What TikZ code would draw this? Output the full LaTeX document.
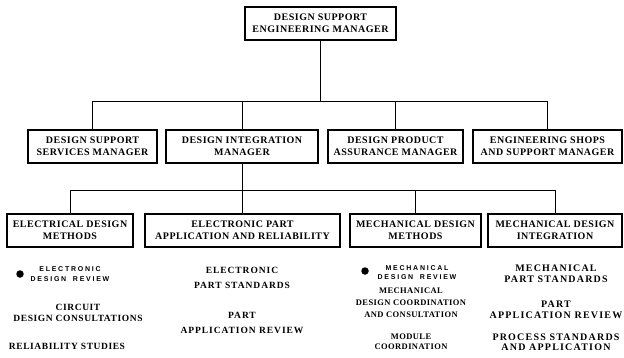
\documentclass[tikz,border=0pt]{standalone}
\usepackage{fontspec}
\setmainfont{Liberation Serif}
\newfontfamily\fa{Liberation Serif}[LetterSpace=5]
\newfontfamily\fb{Liberation Serif}[LetterSpace=6]
\newfontfamily\fe{Liberation Serif}[LetterSpace=10]
\newfontfamily\fc{Liberation Serif}[LetterSpace=5]
\newfontfamily\fd{Liberation Serif}[LetterSpace=12]
\newfontfamily\fs{Liberation Sans}[LetterSpace=25]
\begin{document}
\begin{tikzpicture}[x=1pt,y=-1pt,
  box/.style={draw, line width=1.1pt, inner sep=0pt, align=center, minimum height=33pt},
  mgr/.style={box, font=\fa\bfseries\fontsize{10}{12}\selectfont},
  grp/.style={box, font=\fa\bfseries\fontsize{10}{12}\selectfont},
  item/.style={inner sep=0pt, align=center, font=\fb\bfseries\fontsize{9.5}{10.5}\selectfont},
  iteme/.style={inner sep=0pt, align=center, font=\fe\bfseries\fontsize{9.5}{15}\selectfont},
  itemc/.style={inner sep=0pt, align=center, font=\fc\bfseries\fontsize{8.5}{12}\selectfont},
  itemd/.style={inner sep=0pt, align=center, font=\fd\bfseries\fontsize{10}{10.5}\selectfont},
  small/.style={inner sep=0pt, align=center, font=\fs\bfseries\fontsize{7}{9.5}\selectfont},
  dot/.style={circle, fill, inner sep=0pt, minimum size=7.5pt},
  link/.style={line width=1pt}]
\useasboundingbox (0,0) rectangle (624,357);
\fill[white] (0,0) rectangle (624,357);

% top
\node[mgr, minimum width=151pt] (top) at (320.5,23.5) {DESIGN SUPPORT\\ENGINEERING MANAGER};

% row 2
\node[mgr, minimum width=129pt] (b1) at (92.5,146.5) {DESIGN SUPPORT\\SERVICES MANAGER};
\node[mgr, minimum width=152pt] (b2) at (242,146.5) {DESIGN INTEGRATION\\MANAGER};
\node[mgr, minimum width=135pt] (b3) at (395.5,146.5) {DESIGN PRODUCT\\ASSURANCE MANAGER};
\node[mgr, minimum width=149pt] (b4) at (547.5,146.5) {ENGINEERING SHOPS\\AND SUPPORT MANAGER};

% row 3
\node[grp, minimum width=126pt] (c1) at (70,230.5) {ELECTRICAL DESIGN\\METHODS};
\node[grp, minimum width=195pt] (c2) at (242.5,230.5) {ELECTRONIC PART\\APPLICATION AND RELIABILITY};
\node[grp, minimum width=131pt] (c3) at (415.5,230.5) {MECHANICAL DESIGN\\METHODS};
\node[grp, minimum width=134pt] (c4) at (555,230.5) {MECHANICAL DESIGN\\INTEGRATION};

% connectors level 1
\coordinate (h1) at (320.5,101);
\draw[link] (top.south) -- (h1);
\draw[link] (b1.north |- h1) -- (b4.north |- h1);
\foreach \n in {b1,b2,b3,b4} \draw[link] (\n.north |- h1) -- (\n.north);

% connectors level 2
\coordinate (h2) at (242,190);
\draw[link] (b2.south) -- (b2.south |- h2);
\draw[link] (c1.north |- h2) -- (c4.north |- h2);
\foreach \n in {c1,c2,c3,c4} \draw[link] (\n.north |- h2) -- (\n.north);

% column 1
\node[dot] (d1) at (20,274) {};
\node[small] (t11) at (70,274) {ELECTRONIC\\DESIGN\hspace{3pt} REVIEW};
\node[item] (t12) at (78,313) {CIRCUIT\\DESIGN CONSULTATIONS};
\node[item] (t13) at (67,346) {RELIABILITY STUDIES};

% column 2
\node[iteme] (t21) at (242,278) {ELECTRONIC\\PART STANDARDS};
\node[iteme] (t22) at (242,323) {PART\\APPLICATION REVIEW};

% column 3
\node[dot] (d3) at (365,271) {};
\node[small] (t31) at (417,272.5) {MECHANICAL\\DESIGN\hspace{3pt} REVIEW};
\node[itemc] (t32) at (411,303) {MECHANICAL\\DESIGN COORDINATION\\AND CONSULTATION};
\node[itemc, font=\fc\bfseries\fontsize{8.5}{10}\selectfont] (t33) at (411,342) {MODULE\\COORDINATION};

% column 4
\node[itemd] (t41) at (556,273.5) {MECHANICAL\\PART STANDARDS};
\node[itemd] (t42) at (556,310) {PART\\APPLICATION REVIEW};
\node[itemd] (t43) at (556,342) {PROCESS STANDARDS\\AND APPLICATION};
\end{tikzpicture}
\end{document}
